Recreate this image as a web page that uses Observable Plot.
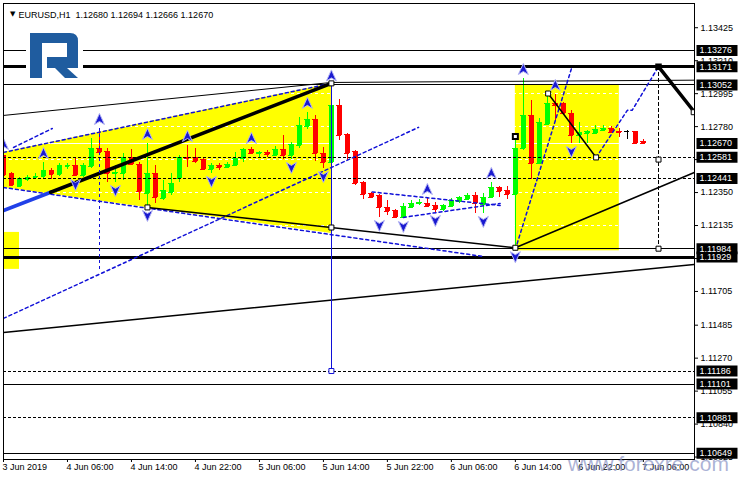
<!DOCTYPE html>
<html><head><meta charset="utf-8">
<script src="https://cdn.jsdelivr.net/npm/d3@7"></script>
<script src="https://cdn.jsdelivr.net/npm/@observablehq/plot@0.6"></script>
<style>
html,body{margin:0;padding:0;background:#fff;}
#wrap{position:relative;width:740px;height:480px;overflow:hidden;}
#wm{position:absolute;left:568px;top:452px;font:21px "Liberation Sans",Arial,sans-serif;color:rgba(140,150,198,0.72);white-space:nowrap;pointer-events:none;}
</style></head><body>
<div id="wrap"></div>
<script>
// ---------- data ----------
const symbolName = "EURUSD,H1";
const tickBars = [0, 8, 16, 24, 32, 40, 48, 56, 64, 72, 80];
const tickLabels = ["3 Jun 2019", "4 Jun 06:00", "4 Jun 14:00", "4 Jun 22:00", "5 Jun 06:00", "5 Jun 14:00",
  "5 Jun 22:00", "6 Jun 06:00", "6 Jun 14:00", "6 Jun 22:00", "7 Jun 06:00"];
const priceTicks = [1.13425, 1.13210, 1.12995, 1.12780, 1.12565, 1.12350, 1.12135, 1.11920, 1.11705,
  1.11485, 1.11270, 1.11055, 1.10840, 1.10625];

const open = [1.12592,1.12475,1.12390,1.12436,1.12445,1.12452,1.12494,1.12468,1.12520,1.12527,
  1.12462,1.12520,1.12638,1.12618,1.12475,1.12475,1.12579,1.12533,1.12344,1.12475,
  1.12312,1.12351,1.12442,1.12579,1.12579,1.12566,1.12501,1.12527,1.12514,1.12527,
  1.12573,1.12631,1.12605,1.12612,1.12592,1.12631,1.12592,1.12657,1.12781,1.12827,
  1.12605,1.12546,1.12918,1.12729,1.12618,1.12416,1.12344,1.12331,1.12253,1.12233,
  1.12188,1.12253,1.12279,1.12279,1.12266,1.12240,1.12259,1.12292,1.12305,1.12331,
  1.12273,1.12318,1.12383,1.12364,1.12338,1.12638,1.12853,1.12540,1.12794,1.12931,
  1.12931,1.12866,1.12723,1.12736,1.12736,1.12755,1.12768,1.12749,1.12749,1.12745,1.12680];
const high = [1.12605,1.12481,1.12449,1.12462,1.12475,1.12546,1.12507,1.12540,1.12540,1.12573,
  1.12540,1.12703,1.12768,1.12638,1.12527,1.12605,1.12631,1.12546,1.12670,1.12527,
  1.12429,1.12475,1.12592,1.12657,1.12638,1.12573,1.12540,1.12540,1.12546,1.12612,
  1.12638,1.12644,1.12618,1.12625,1.12651,1.12723,1.12677,1.12840,1.12873,1.12853,
  1.12644,1.13052,1.12957,1.12736,1.12625,1.12423,1.12351,1.12338,1.12299,1.12240,
  1.12279,1.12299,1.12305,1.12312,1.12286,1.12273,1.12312,1.12325,1.12344,1.12351,
  1.12344,1.12416,1.12390,1.12390,1.12716,1.13094,1.12951,1.12833,1.12996,1.12990,
  1.12938,1.12886,1.12807,1.12755,1.12788,1.12788,1.12781,1.12768,1.12755,1.12745,1.12694];
const low = [1.12449,1.12390,1.12383,1.12423,1.12436,1.12442,1.12436,1.12455,1.12501,1.12455,
  1.12449,1.12507,1.12605,1.12416,1.12416,1.12429,1.12527,1.12299,1.12253,1.12279,
  1.12299,1.12331,1.12416,1.12514,1.12540,1.12494,1.12475,1.12494,1.12507,1.12520,
  1.12546,1.12599,1.12573,1.12579,1.12586,1.12566,1.12566,1.12638,1.12762,1.12553,
  1.12507,1.12540,1.12690,1.12559,1.12396,1.12305,1.12312,1.12188,1.12201,1.12181,
  1.12181,1.12246,1.12266,1.12253,1.12220,1.12227,1.12253,1.12279,1.12299,1.12214,
  1.12214,1.12312,1.12318,1.12305,1.11984,1.12625,1.12436,1.12533,1.12788,1.12820,
  1.12853,1.12670,1.12670,1.12670,1.12729,1.12749,1.12736,1.12709,1.12696,1.12665,1.12666];
const close = [1.12462,1.12396,1.12442,1.12449,1.12455,1.12494,1.12468,1.12527,1.12527,1.12462,
  1.12527,1.12638,1.12612,1.12475,1.12481,1.12579,1.12533,1.12357,1.12475,1.12318,
  1.12364,1.12409,1.12579,1.12573,1.12553,1.12501,1.12527,1.12514,1.12533,1.12573,
  1.12631,1.12605,1.12612,1.12599,1.12631,1.12592,1.12664,1.12788,1.12827,1.12605,
  1.12546,1.12918,1.12723,1.12605,1.12409,1.12338,1.12318,1.12253,1.12227,1.12188,
  1.12259,1.12279,1.12286,1.12259,1.12240,1.12266,1.12299,1.12318,1.12331,1.12279,
  1.12318,1.12383,1.12357,1.12338,1.12638,1.12853,1.12540,1.12807,1.12931,1.12918,
  1.12866,1.12723,1.12742,1.12749,1.12762,1.12768,1.12742,1.12742,1.12749,1.12673,1.12670];

const fractalUp = [0, 5, 12, 18, 23, 31, 38, 41, 53, 61, 65, 69];
const fractalDown = [9, 14, 18, 26, 36, 40, 47, 50, 54, 60, 64, 71];

// horizontal levels
const levelsThin = [1.13276, 1.13052, 1.11984, 1.11101, 1.10649];
const levelsThick = [1.13171, 1.11929];
const levelsDashed = [1.12581, 1.12441, 1.11186, 1.10881];
const boxedLevels = [1.13276, 1.13171, 1.13052, 1.12670, 1.12581, 1.12441, 1.11984, 1.11929, 1.11186, 1.11101, 1.10881, 1.10649];

// yellow areas [bar, price]
const wedgeBars = [0, 41];
const wedgeUpper = [1.12612, 1.13062];
const wedgeLower = [1.12383, 1.12083];
const boxRight = {x1: 64, x2: 77, y1: 1.11970, y2: 1.13052};
const boxLeft = {x1: -1, x2: 2, y1: 1.11849, y2: 1.12090};

// drawn lines as [bar, price]
const thinUpper = [[0, 1.12853], [41, 1.13068], [86.4, 1.13083]];
const mainTrendBlue = [[0, 1.12233], [5.9, 1.12352]];
const mainTrendBlack = [[5.9, 1.12352], [41, 1.13062]];
const rightTrend = [[81.9, 1.13171], [86.4, 1.12874]];
const midSupport = [[18, 1.12253], [64, 1.11990]];
const rightSupport = [[64, 1.11990], [86.4, 1.12481]];
const lowChannel = [[0, 1.11438], [86.4, 1.11881]];
const blueLong = [[0, 1.11529], [51.9, 1.12775]];
const blueWedgeTop = [[0, 1.12612], [41, 1.13062]];
const blueWedgeBottom = [[0, 1.12383], [60, 1.11933]];
const blueConsTop = [[46.1, 1.12354], [62.1, 1.12266]];
const blueConsBottom = [[50, 1.12188], [62.1, 1.12279]];
const blueShort = [[1.25, 1.12644], [6.1, 1.12768]];
const blueRise = [[64, 1.11979], [71.1, 1.13173]];
const zigDown = [[68.1, 1.12996], [74.1, 1.12579]];
const zigUp = [[74.1, 1.12579], [78, 1.12886], [78.6, 1.12886], [81.9, 1.13171]];
const vBlueDashed = [{k: 12, a: 1.12768, b: 1.11829}];
const vBlue = [{k: 41, a: 1.13062, b: 1.11186}];
const vBlack = [{k: 81.9, a: 1.13171, b: 1.11984}];

const squaresBlack = [[18, 1.12253], [41, 1.12122], [41, 1.13062], [68.1, 1.12996], [74.1, 1.12579],
  [81.9, 1.12565], [81.9, 1.11984], [86.3, 1.12874], [64, 1.11990]];
const squaresBlue = [[41, 1.11186]];
const squaresBold = [[64, 1.12716]];
const squaresFilled = [[81.9, 1.13171]];

// ---------- drawing ----------
const bars = open.map((o, i) => ({k: i, o, h: high[i], l: low[i], c: close[i]}));
const col = d => d.c > d.o ? "#00ff00" : d.c < d.o ? "#ff0000" : "#000000";
const last = bars[bars.length - 1];
const header = `${symbolName}\u00a0 ${last.o.toFixed(5)} ${last.h.toFixed(5)} ${last.l.toFixed(5)} ${last.c.toFixed(5)}`;

const upArrow = {draw(ctx) { ctx.moveTo(0, -6); ctx.lineTo(5, 5); ctx.lineTo(0, 2); ctx.lineTo(-5, 5); ctx.closePath(); }};
const downArrow = {draw(ctx) { ctx.moveTo(0, 6); ctx.lineTo(5, -5); ctx.lineTo(0, -2); ctx.lineTo(-5, -5); ctx.closePath(); }};
const boxSym = {draw(ctx) { ctx.rect(0, -5.5, 41, 11); }};
const sq = {draw(ctx) { ctx.rect(-2.5, -2.5, 5, 5); }};

const seg = (pts, o) => Plot.line(pts, {x: d => d[0], y: d => d[1], clip: true, ...o});
const BLUE = "#1010d8";

const chart = Plot.plot({
  width: 740, height: 480,
  marginLeft: 3, marginRight: 46, marginTop: 3, marginBottom: 21,
  style: {fontFamily: "Liberation Sans, Arial, sans-serif", fontSize: "9px", background: "white", color: "black", overflow: "visible"},
  x: {domain: [0, 86.4], axis: "bottom", ticks: tickBars, tickFormat: () => "", tickSize: 3, label: null},
  y: {domain: [1.10609, 1.13583], axis: "right", ticks: priceTicks, tickFormat: d => d.toFixed(5), tickSize: 3, tickPadding: 3, label: null},
  marks: [
    // yellow backgrounds
    Plot.areaY(wedgeBars.map((k, i) => ({k, lo: wedgeLower[i], hi: wedgeUpper[i]})), {x: "k", y1: "lo", y2: "hi", fill: "#ffff00", clip: true}),
    Plot.rect([boxRight, boxLeft], {x1: "x1", x2: "x2", y1: "y1", y2: "y2", fill: "#ffff00", clip: true}),
    // white grid + bid line (visible over yellow)
    Plot.ruleY(priceTicks, {stroke: "white", strokeDasharray: "3,3", shapeRendering: "crispEdges"}),
    Plot.ruleY([last.c], {stroke: "white", shapeRendering: "crispEdges"}),
    // candles
    Plot.ruleX(bars, {x: "k", y1: "l", y2: "h", stroke: col, shapeRendering: "crispEdges", clip: true}),
    Plot.ruleX(bars, {x: "k", y1: "o", y2: "c", stroke: col, strokeWidth: 5, shapeRendering: "crispEdges", clip: true}),
    Plot.ruleY(bars, {y: "o", x1: d => d.k - 0.31, x2: d => d.k + 0.31, stroke: col, shapeRendering: "crispEdges", clip: true}),
    Plot.ruleY(bars, {y: "c", x1: d => d.k - 0.31, x2: d => d.k + 0.31, stroke: col, shapeRendering: "crispEdges", clip: true}),
    // horizontal levels
    Plot.ruleY(levelsThin, {stroke: "black", shapeRendering: "crispEdges"}),
    Plot.ruleY(levelsThick, {stroke: "black", strokeWidth: 3, shapeRendering: "crispEdges"}),
    Plot.ruleY(levelsDashed, {stroke: "black", strokeDasharray: "3,2", shapeRendering: "crispEdges"}),
    // lines
    seg(thinUpper, {stroke: "black", strokeWidth: 1}),
    seg(blueWedgeTop, {stroke: BLUE, strokeDasharray: "3,3"}),
    seg(blueWedgeBottom, {stroke: BLUE, strokeDasharray: "3,3"}),
    seg(blueShort, {stroke: BLUE, strokeDasharray: "3,3"}),
    seg(blueLong, {stroke: BLUE, strokeDasharray: "3,3"}),
    seg(blueConsTop, {stroke: BLUE, strokeDasharray: "3,3"}),
    seg(blueConsBottom, {stroke: BLUE, strokeDasharray: "3,3"}),
    seg(blueRise, {stroke: BLUE, strokeDasharray: "3,3"}),
    seg(zigUp, {stroke: BLUE, strokeDasharray: "3,3"}),
    seg(zigDown, {stroke: "black"}),
    seg(midSupport, {stroke: "black"}),
    seg(rightSupport, {stroke: "black"}),
    seg(lowChannel, {stroke: "black"}),
    seg(mainTrendBlue, {stroke: "#2040e8", strokeWidth: 3.5}),
    seg(mainTrendBlack, {stroke: "black", strokeWidth: 3.5}),
    seg(rightTrend, {stroke: "black", strokeWidth: 3.5}),
    Plot.ruleX(vBlueDashed, {x: "k", y1: "a", y2: "b", stroke: BLUE, strokeDasharray: "3,3", shapeRendering: "crispEdges"}),
    Plot.ruleX(vBlue, {x: "k", y1: "a", y2: "b", stroke: BLUE, shapeRendering: "crispEdges"}),
    Plot.ruleX(vBlack, {x: "k", y1: "a", y2: "b", stroke: "black", strokeDasharray: "4,2", shapeRendering: "crispEdges"}),
    // markers
    Plot.dot(squaresBlack, {x: d => d[0], y: d => d[1], symbol: sq, fill: "white", stroke: "black", strokeWidth: 1, clip: true}),
    Plot.dot(squaresBlue, {x: d => d[0], y: d => d[1], symbol: sq, fill: "white", stroke: BLUE, strokeWidth: 1}),
    Plot.dot(squaresBold, {x: d => d[0], y: d => d[1], symbol: sq, fill: "white", stroke: "black", strokeWidth: 2}),
    Plot.dot(squaresFilled, {x: d => d[0], y: d => d[1], symbol: sq, fill: "black", stroke: "black"}),
    // fractal arrows
    Plot.dot(fractalUp, {x: k => k, y: k => high[k], dy: -9, symbol: upArrow, fill: "#1a1ad0", stroke: "#b4b4f4", strokeWidth: 1, clip: true}),
    Plot.dot(fractalDown, {x: k => k, y: k => low[k], dy: 8, symbol: downArrow, fill: "#1a1ad0", stroke: "#b4b4f4", strokeWidth: 1, clip: true}),
    // frame
    Plot.frame({stroke: "black", shapeRendering: "crispEdges"}),
    // header
    Plot.text(["\u25BC"], {frameAnchor: "top-left", dx: 6.5, dy: 7.5, fontSize: 7, fontFamily: "DejaVu Sans", fill: "black"}),
    Plot.text([header], {frameAnchor: "top-left", dx: 15, dy: 8, textAnchor: "start", fill: "black"}),
    // price boxes
    Plot.dot(boxedLevels, {y: d => d, frameAnchor: "right", dx: 2, symbol: boxSym, fill: "black"}),
    Plot.text(boxedLevels, {y: d => d, text: d => d.toFixed(5), frameAnchor: "right", textAnchor: "start", dx: 5, fill: "white"}),
    // time labels
    Plot.text(tickBars, {x: d => d, text: (d, i) => tickLabels[i], frameAnchor: "bottom", dy: 10, dx: -1, textAnchor: "start", fill: "black"})
  ]
});
const wrap = document.getElementById("wrap");
wrap.appendChild(chart);

// logo overlay
const ns = "http://www.w3.org/2000/svg";
const logo = document.createElementNS(ns, "svg");
logo.setAttribute("width", 740); logo.setAttribute("height", 480);
logo.setAttribute("style", "position:absolute;left:0;top:0;pointer-events:none");
logo.innerHTML = '<rect x="26" y="29" width="57" height="52" fill="white"/>' +
  '<path fill="#1f5c9f" d="M30,33 H70 Q78,33 78,41 V68 H47 V57 H67 V43 H42 V78 H30 Z"/>' +
  '<path fill="#1f5c9f" d="M55,68 H67 L78,78 H65 Z"/>';
wrap.appendChild(logo);

const wm = document.createElement("div");
wm.id = "wm"; wm.textContent = "www.forexre.com";
wrap.appendChild(wm);
</script>
</body></html>
